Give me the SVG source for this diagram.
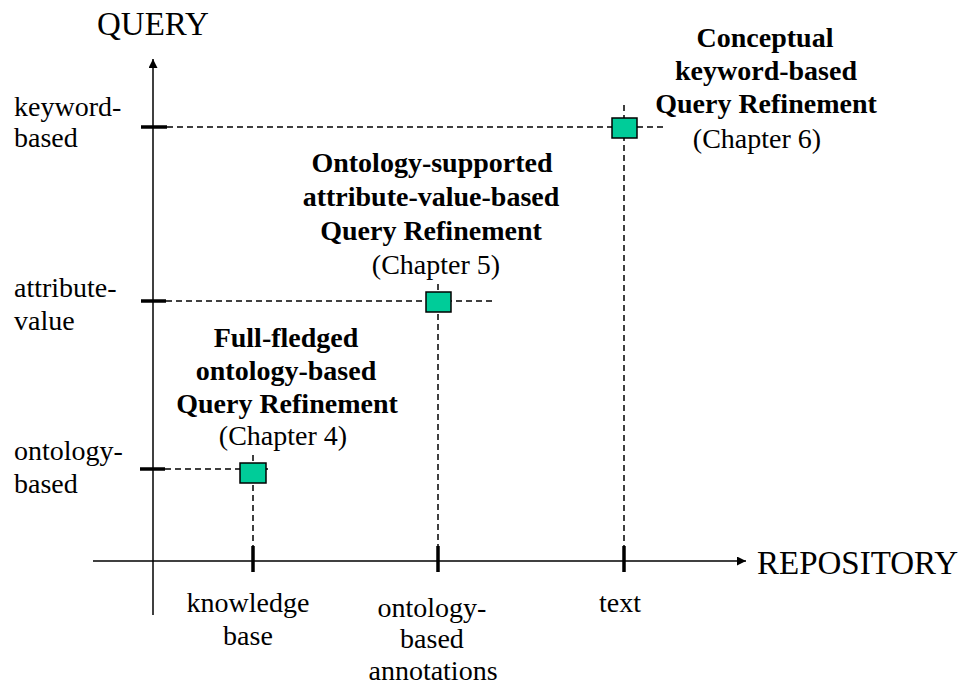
<svg xmlns="http://www.w3.org/2000/svg" width="966" height="686" viewBox="0 0 966 686">
<style>
text{font-family:"Liberation Serif","Times New Roman",serif;fill:#000}
.t{font-size:28px}
.b{font-size:28px;font-weight:bold}
.ax{font-size:33px}
.m{text-anchor:middle}
.axis{stroke:#000;stroke-width:1.5;fill:none}
.tick{stroke:#000;stroke-width:3.5}
.dash{stroke:#000;stroke-width:1.5;stroke-dasharray:6,4;fill:none}
.sq{fill:#00CC99;stroke:#000;stroke-width:1.5}
</style>
<defs>
<marker id="ah" viewBox="0 0 10 10" refX="10" refY="5" markerWidth="9" markerHeight="9" markerUnits="userSpaceOnUse" orient="auto">
<path d="M0,0 L10,5 L0,10 Z" fill="#000"/>
</marker>
</defs>
<rect width="966" height="686" fill="#fff"/>
<g id="connectors">
<line class="axis" x1="153" y1="615" x2="153" y2="59" marker-end="url(#ah)"/>
<line class="axis" x1="93" y1="561" x2="746" y2="561" marker-end="url(#ah)"/>
<line class="tick" x1="141" y1="127" x2="167" y2="127"/>
<line class="tick" x1="141" y1="301" x2="166" y2="301"/>
<line class="tick" x1="140" y1="469" x2="165" y2="469"/>
<line class="tick" x1="253" y1="546" x2="253" y2="572"/>
<line class="tick" x1="438" y1="546" x2="438" y2="572"/>
<line class="tick" x1="624" y1="546" x2="624" y2="572"/>
<line class="dash" x1="167" y1="127" x2="663" y2="127"/>
<line class="dash" x1="624" y1="105" x2="624" y2="546"/>
<line class="dash" x1="166" y1="301" x2="493" y2="301"/>
<line class="dash" x1="438" y1="284" x2="438" y2="546"/>
<line class="dash" x1="165" y1="469" x2="268" y2="469"/>
<line class="dash" x1="253" y1="455" x2="253" y2="546"/>
</g>
<g id="axis-labels">
<text class="ax" x="97" y="35">QUERY</text>
<text class="ax" x="757" y="574">REPOSITORY</text>
</g>
<g id="y-labels">
<text class="t" x="14" y="116">keyword-</text>
<text class="t" x="14" y="147">based</text>
<text class="t" x="14" y="297">attribute-</text>
<text class="t" x="14" y="330">value</text>
<text class="t" x="14" y="460">ontology-</text>
<text class="t" x="14" y="493">based</text>
</g>
<g id="x-labels">
<text class="t m" x="248" y="612">knowledge</text>
<text class="t m" x="248" y="645">base</text>
<text class="t m" x="432" y="617">ontology-</text>
<text class="t m" x="432" y="648">based</text>
<text class="t m" x="433" y="680">annotations</text>
<text class="t m" x="620" y="612">text</text>
</g>
<g id="node-ch6">
<rect class="sq" x="612" y="118" width="25" height="20"/>
<text class="b m" x="765" y="47">Conceptual</text>
<text class="b m" x="766" y="80">keyword-based</text>
<text class="b m" x="766" y="113">Query Refinement</text>
<text class="t m" x="757" y="148">(Chapter 6)</text>
</g>
<g id="node-ch5">
<rect class="sq" x="426" y="292" width="25" height="20"/>
<text class="b m" x="432" y="172">Ontology-supported</text>
<text class="b m" x="431" y="206">attribute-value-based</text>
<text class="b m" x="431" y="240">Query Refinement</text>
<text class="t m" x="436" y="274">(Chapter 5)</text>
</g>
<g id="node-ch4">
<rect class="sq" x="240" y="463" width="26" height="20"/>
<text class="b m" x="286" y="347">Full-fledged</text>
<text class="b m" x="286" y="380">ontology-based</text>
<text class="b m" x="287" y="413">Query Refinement</text>
<text class="t m" x="283" y="445">(Chapter 4)</text>
</g>
</svg>
